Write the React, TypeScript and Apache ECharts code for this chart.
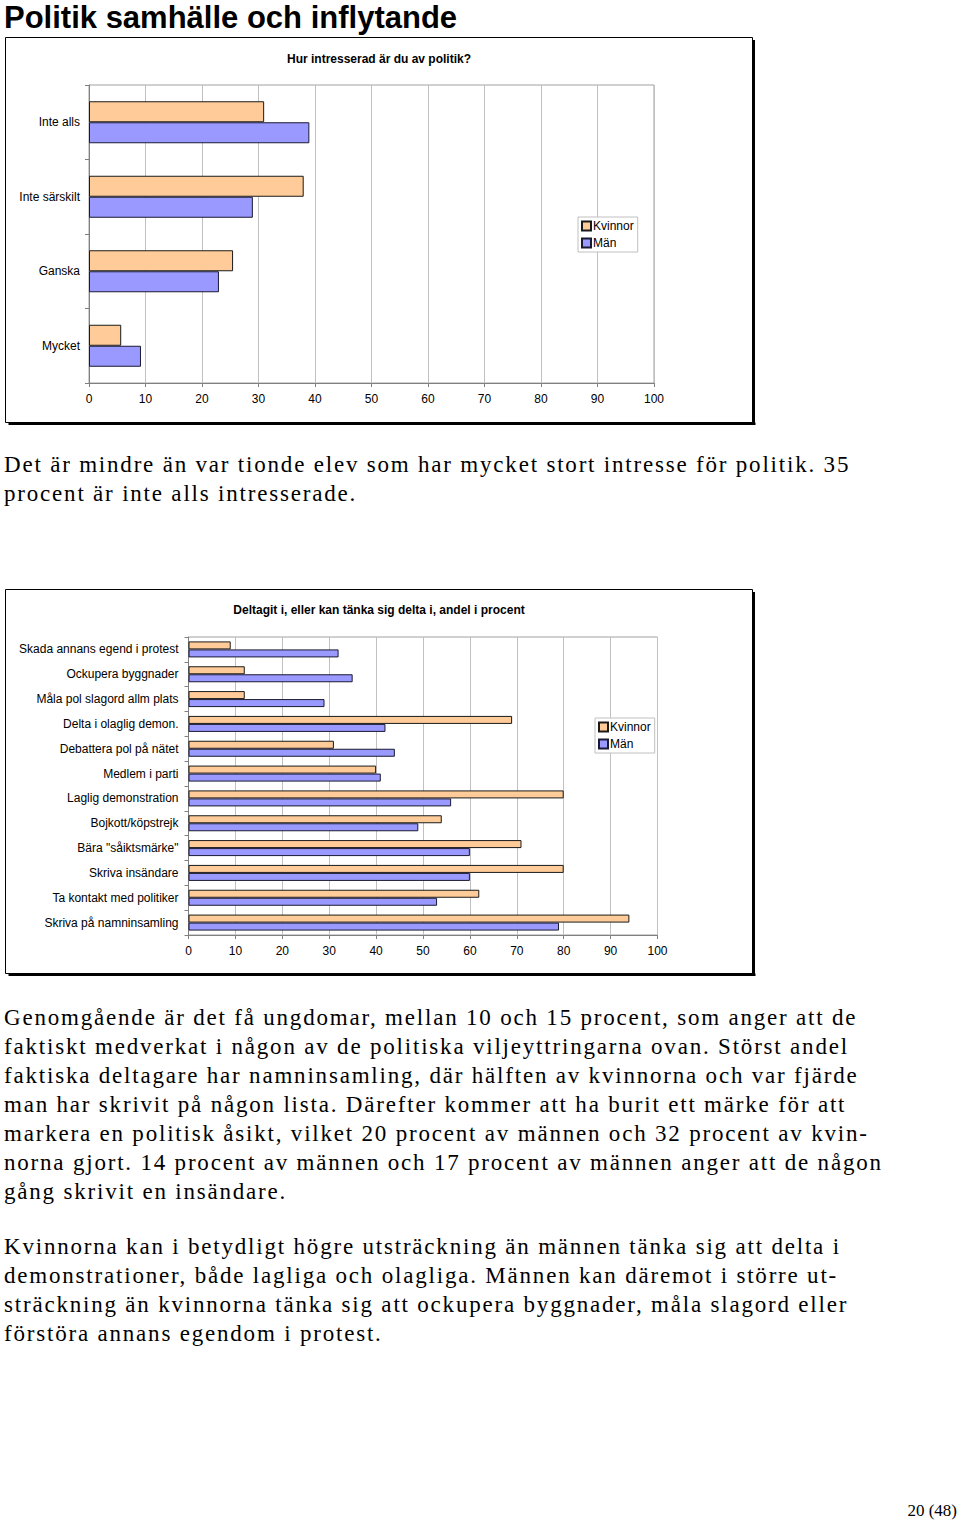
import React, { useEffect, useRef } from "react";
import * as echarts from "echarts";

const seriesNames = ["Kvinnor", "Män"];

const categories1 = ["Inte alls", "Inte särskilt", "Ganska", "Mycket"];
const kvinnor1 = [31, 38, 25.5, 5.7];
const man1 = [39, 29, 23, 9.2];

const categories2 = [
  "Skada annans egend i protest",
  "Ockupera byggnader",
  "Måla pol slagord allm plats",
  "Delta i olaglig demon.",
  "Debattera pol på nätet",
  "Medlem i parti",
  "Laglig demonstration",
  "Bojkott/köpstrejk",
  'Bära "såiktsmärke"',
  "Skriva insändare",
  "Ta kontakt med politiker",
  "Skriva på namninsamling",
];
const kvinnor2 = [9, 12, 12, 69, 31, 40, 80, 54, 71, 80, 62, 94];
const man2 = [32, 35, 29, 42, 44, 41, 56, 49, 60, 60, 53, 79];

const pageTitle = "Politik samhälle och inflytande";
const chartTitle1 = "Hur intresserad är du av politik?";
const chartTitle2 = "Deltagit i, eller kan tänka sig delta i, andel i procent";

const paragraph1 = [
  "Det är mindre än var tionde elev som har mycket stort intresse för politik. 35",
  "procent är inte alls intresserade.",
];
const paragraph2 = [
  "Genomgående är det få ungdomar, mellan 10 och 15 procent, som anger att de",
  "faktiskt medverkat i någon av de politiska viljeyttringarna ovan. Störst andel",
  "faktiska deltagare har namninsamling, där hälften av kvinnorna och var fjärde",
  "man har skrivit på någon lista. Därefter kommer att ha burit ett märke för att",
  "markera en politisk åsikt, vilket 20 procent av männen och 32 procent av kvin-",
  "norna gjort. 14 procent av männen och 17 procent av männen anger att de någon",
  "gång skrivit en insändare.",
];
const paragraph3 = [
  "Kvinnorna kan i betydligt högre utsträckning än männen tänka sig att delta i",
  "demonstrationer, både lagliga och olagliga. Männen kan däremot i större ut-",
  "sträckning än kvinnorna tänka sig att ockupera byggnader, måla slagord eller",
  "förstöra annans egendom i protest.",
];
const pageNumber = "20 (48)";

const SANS = "'Liberation Sans', Arial, sans-serif";
const SERIF = "'Liberation Serif', 'Times New Roman', serif";
const KV_COLOR = "#FFCC99";
const MAN_COLOR = "#9999FF";

function frame(top: number, bottom: number): any[] {
  const left = 5.5;
  const right = 752.5;
  return [
    {
      type: "rect",
      shape: { x: left, y: top + 0.5, width: right - left, height: bottom - top },
      style: { fill: "none", stroke: "#000", lineWidth: 1 },
      silent: true,
    },
    {
      type: "rect",
      shape: { x: right, y: top + 3, width: 2.5, height: bottom - top },
      style: { fill: "#000" },
      silent: true,
    },
    {
      type: "rect",
      shape: { x: left + 3, y: bottom + 0.5, width: right - left, height: 2.5 },
      style: { fill: "#000" },
      silent: true,
    },
  ];
}

function xAxisCfg(gridIndex: number): any {
  return {
    type: "value",
    gridIndex,
    min: 0,
    max: 100,
    interval: 10,
    axisLine: { show: true, lineStyle: { color: "#808080", width: 1 } },
    axisTick: { show: true, length: 4, lineStyle: { color: "#808080" } },
    axisLabel: { color: "#000", fontFamily: SANS, fontSize: 12, margin: 10 },
    splitLine: { show: true, lineStyle: { color: "#c0c0c0", width: 1 } },
  };
}

function yAxisCfg(gridIndex: number, data: string[], margin: number): any {
  return {
    type: "category",
    gridIndex,
    data,
    inverse: true,
    axisLine: { show: true, lineStyle: { color: "#808080", width: 1 } },
    axisTick: { show: true, length: 4, inside: false, lineStyle: { color: "#808080" } },
    axisLabel: { color: "#000", fontFamily: SANS, fontSize: 12, margin },
    splitLine: { show: false },
  };
}

function legendCfg(left: number, top: number): any {
  return {
    orient: "vertical",
    left,
    top,
    data: seriesNames,
    icon: "rect",
    itemWidth: 9,
    itemHeight: 9,
    itemGap: 5,
    padding: [3, 4, 3, 3],
    borderColor: "#c0c0c0",
    borderWidth: 1,
    backgroundColor: "#fff",
    textStyle: { color: "#000", fontFamily: SANS, fontSize: 12, padding: [0, 0, 0, -3] },
  };
}

function barSeries(name: string, data: number[], idx: number, color: string, border: string, width: number): any {
  return {
    type: "bar",
    name,
    data,
    xAxisIndex: idx,
    yAxisIndex: idx,
    barWidth: width,
    barGap: "0%",
    itemStyle: { color, borderColor: border, borderWidth: 1 },
  };
}

function Paragraph({ lines, centerY, step }: { lines: string[]; centerY: number; step: number }) {
  return (
    <>
      {lines.map((t, i) => (
        <div
          key={i}
          style={{
            position: "absolute",
            left: 4,
            top: centerY + i * step - 14,
            height: 29,
            lineHeight: "29px",
            fontFamily: SERIF,
            fontSize: 23,
            letterSpacing: "1.8px",
            whiteSpace: "pre",
            color: "#000",
          }}
        >
          {t}
        </div>
      ))}
    </>
  );
}

export default function App() {
  const ref = useRef<HTMLDivElement>(null);

  useEffect(() => {
    if (!ref.current) return;
    const chart = echarts.init(ref.current, undefined, { renderer: "svg" });
    const graphics: any[] = [
      ...frame(37, 422),
      ...frame(589, 973),
      {
        type: "text",
        x: 4,
        y: 17,
        style: {
          text: pageTitle,
          font: `bold 31px ${SANS}`,
          fill: "#000",
          textVerticalAlign: "middle",
        },
        silent: true,
      },
      {
        type: "text",
        x: 379,
        y: 59,
        style: {
          text: chartTitle1,
          font: `bold 12px ${SANS}`,
          fill: "#000",
          textAlign: "center",
          textVerticalAlign: "middle",
        },
        silent: true,
      },
      {
        type: "text",
        x: 379,
        y: 610,
        style: {
          text: chartTitle2,
          font: `bold 12px ${SANS}`,
          fill: "#000",
          textAlign: "center",
          textVerticalAlign: "middle",
        },
        silent: true,
      },
      {
        type: "text",
        x: 957,
        y: 1510,
        style: {
          text: pageNumber,
          font: `17px ${SERIF}`,
          fill: "#000",
          textAlign: "right",
          textVerticalAlign: "middle",
        },
        silent: true,
      },
    ];

    chart.setOption({
      animation: false,
      backgroundColor: "#fff",
      grid: [
        { left: 89, top: 85, width: 565, height: 298, show: true, borderColor: "#a0a0a0", borderWidth: 1, backgroundColor: "transparent" },
        { left: 188.5, top: 637, width: 469, height: 298, show: true, borderColor: "#a0a0a0", borderWidth: 1, backgroundColor: "transparent" },
      ],
      xAxis: [xAxisCfg(0), xAxisCfg(1)],
      yAxis: [yAxisCfg(0, categories1, 9), yAxisCfg(1, categories2, 10)],
      legend: [legendCfg(578, 217), legendCfg(595, 718)],
      series: [
        barSeries(seriesNames[0], kvinnor1, 0, KV_COLOR, "#1a1a1a", 21),
        barSeries(seriesNames[1], man1, 0, MAN_COLOR, "#1a1a33", 21),
        barSeries(seriesNames[0], kvinnor2, 1, KV_COLOR, "#1a1a1a", 8),
        barSeries(seriesNames[1], man2, 1, MAN_COLOR, "#1a1a33", 8),
      ],
      graphic: graphics,
    });
    return () => chart.dispose();
  }, []);

  return (
    <div style={{ position: "absolute", left: 0, top: 0, width: 960, height: 1523, background: "#fff" }}>
      <div ref={ref} style={{ position: "absolute", left: 0, top: 0, width: 960, height: 1523 }} />
      <Paragraph lines={paragraph1} centerY={464} step={29.2} />
      <Paragraph lines={paragraph2} centerY={1017} step={29} />
      <Paragraph lines={paragraph3} centerY={1246} step={29} />
    </div>
  );
}
